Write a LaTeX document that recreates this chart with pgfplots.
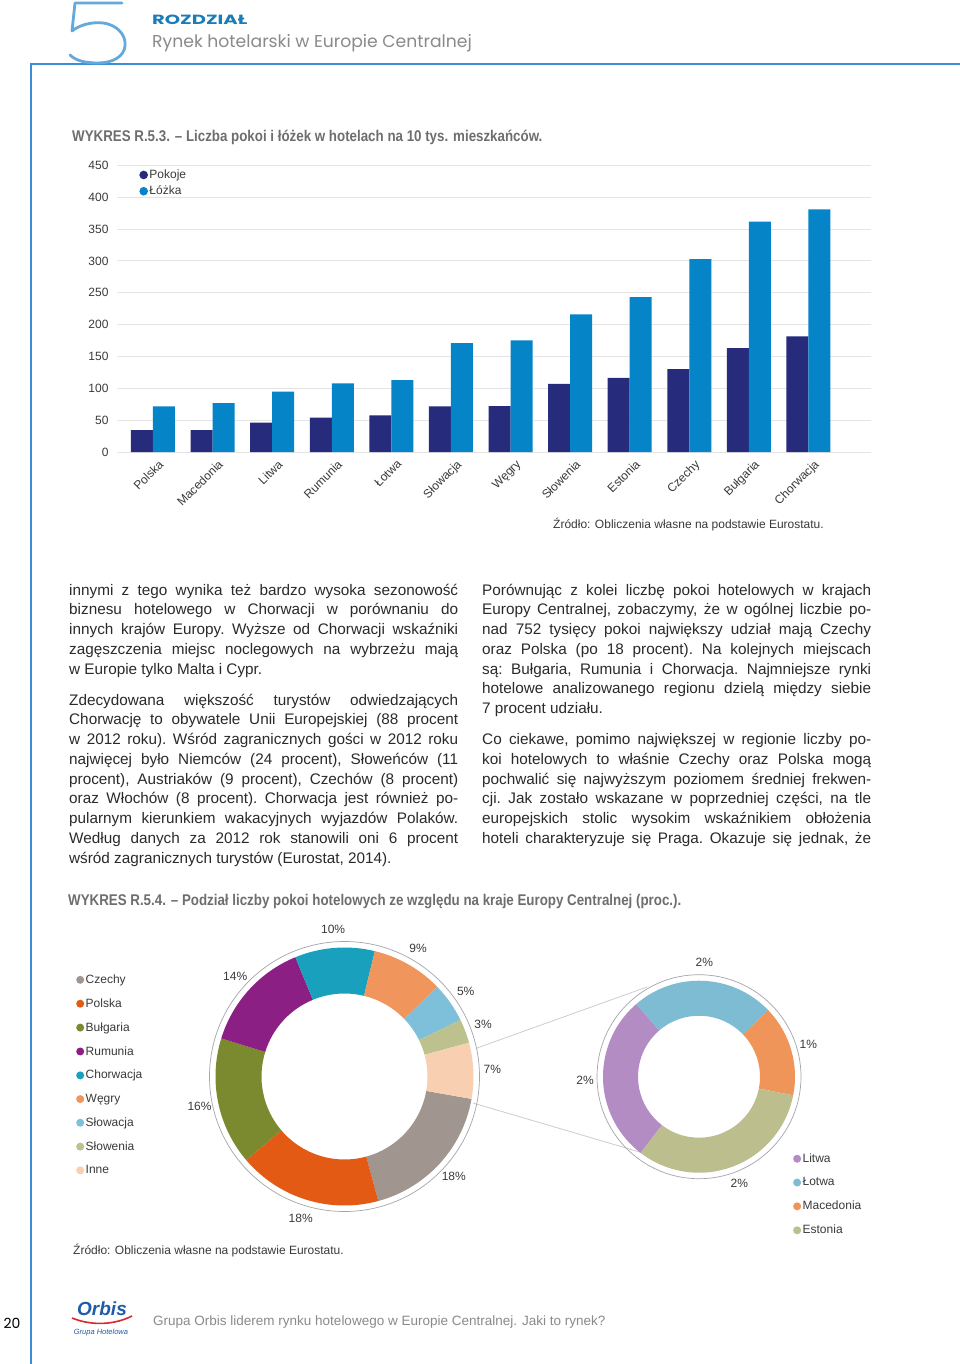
\documentclass[border=0pt]{standalone}
\usepackage{fontspec}
\usepackage{graphicx}
\usepackage{pgfplots}
\usepackage{pgfplotstable}
\pgfplotsset{compat=1.18}
\setmainfont{Liberation Sans}
\newfontfamily\popfont{Poppins}

\definecolor{navy}{HTML}{262B7B}
\definecolor{lblue}{HTML}{0584C8}
\definecolor{gridgray}{HTML}{E4E4E4}
\definecolor{tickgray}{HTML}{3A3A3A}
\definecolor{titlegray}{HTML}{6E6E6E}
\definecolor{bodygray}{HTML}{2A2A2A}
\definecolor{frameblue}{HTML}{3D8ED0}
\definecolor{fiveblue}{HTML}{62AADC}
\definecolor{tealhead}{HTML}{1B7DB6}
\definecolor{headgray}{HTML}{8A8A8A}
\definecolor{ringgray}{HTML}{A4A4AE}
\definecolor{linegray}{HTML}{CDCDCD}
\definecolor{czechy}{HTML}{A1958F}
\definecolor{polska}{HTML}{E25A14}
\definecolor{bulgaria}{HTML}{7B8A2F}
\definecolor{rumunia}{HTML}{8B1F83}
\definecolor{chorwacja}{HTML}{18A0BD}
\definecolor{wegry}{HTML}{F0955B}
\definecolor{slowacja}{HTML}{7EC0D9}
\definecolor{slowenia}{HTML}{BCC18E}
\definecolor{inne}{HTML}{F8CFB0}
\definecolor{litwa}{HTML}{B38CC4}
\definecolor{lotwa}{HTML}{7EBCD3}
\definecolor{macedonia}{HTML}{F0955A}
\definecolor{estonia}{HTML}{BDBE8D}
\definecolor{orbisblue}{HTML}{1F5CA8}
\definecolor{orbisred}{HTML}{D8282E}

% bar data (per 10 thousand inhabitants)
\pgfplotstableread{
idx pokoje lozka
0  34.5  71.6
1  34.5  76.8
2  46.0  94.6
3  53.8  107.7
4  57.5  112.9
5  71.6  170.9
6  72.1  175.1
7  107.1 215.9
8  116.5 243.0
9  130.1 302.6
10 163.1 361.7
11 181.4 381.0
}\bars

% donut data
\pgfplotstableread{
name val col lab
Czechy 18 czechy 18
Polska 18 polska 18
Bulgaria 16 bulgaria 16
Rumunia 14 rumunia 14
Chorwacja 10 chorwacja 10
Wegry 9 wegry 9
Slowacja 5 slowacja 5
Slowenia 3 slowenia 3
Inne 7 inne 7
}\donutA

\pgfplotstableread{
name val col lab
Litwa 1.98 litwa 2
Lotwa 1.69 lotwa 2
Macedonia 1.07 macedonia 1
Estonia 2.26 estonia 2
}\donutB

\newcommand\pielabfont{\fontsize{12}{14}\selectfont}
% #1 table, #2 start angle, #3 outer r, #4 inner r, #5 deg per unit, #6 label radius
\newcommand\drawdonut[6]{%
  \xdef\cumang{#2}%
  \pgfplotstablegetrowsof{#1}%
  \pgfmathtruncatemacro\dnrows{\pgfplotsretval-1}%
  \pgfplotsforeachungrouped \di in {0,...,\dnrows}{%
    \pgfplotstablegetelem{\di}{val}\of{#1}\let\dval\pgfplotsretval
    \pgfplotstablegetelem{\di}{col}\of{#1}\let\dcol\pgfplotsretval
    \pgfplotstablegetelem{\di}{lab}\of{#1}\let\dlab\pgfplotsretval
    \pgfmathsetmacro\dA{\cumang}%
    \pgfmathsetmacro\dB{\cumang-#5*\dval}%
    \pgfmathsetmacro\dM{(\dA+\dB)/2}%
    \pgfmathsetmacro\xa{#3*cos(\dA)}\pgfmathsetmacro\ya{#3*sin(\dA)}%
    \pgfmathsetmacro\xb{#4*cos(\dB)}\pgfmathsetmacro\yb{#4*sin(\dB)}%
    \pgfmathsetmacro\xm{#6*cos(\dM)}\pgfmathsetmacro\ym{#6*sin(\dM)}%
    \edef\dtemp{\noexpand\fill[\dcol] (axis cs:\xa,\ya) arc[start angle=\dA, end angle=\dB, radius=#3pt] -- (axis cs:\xb,\yb) arc[start angle=\dB, end angle=\dA, radius=#4pt] -- cycle;
      \noexpand\node[font=\noexpand\pielabfont, text=tickgray, inner sep=0pt] at (axis cs:\xm,\ym) {\dlab\noexpand\%};}%
    \dtemp
    \xdef\cumang{\dB}%
  }%
}

\newcommand\bodyfont{\fontsize{15.3}{19.75}\selectfont\frenchspacing}
\newcommand\titlebox[1]{\scalebox{0.86}[1]{\bfseries\fontsize{15.5}{16}\selectfont #1}}

\begin{document}
\begin{tikzpicture}
\path[use as bounding box, fill=white] (0pt,0pt) rectangle (960pt,-1364pt);
\begin{scope}[x=1pt,y=-1pt]
% frame
\draw[frameblue, line width=1.5pt] (960,64) -- (31,64) -- (31,1364);
% big 5
\draw[fiveblue, line width=2.8pt, line cap=round, line join=round] (122,3) -- (75,3) -- (72,31)
  .. controls (82,23) and (98,21) .. (108,24)
  .. controls (121,28) and (126,38) .. (125,46)
  .. controls (124,57) and (112,63) .. (98,63)
  .. controls (86,63) and (76,61) .. (70,55);
\node[anchor=base west, inner sep=0pt, text=tealhead] at (152,25) {\resizebox{95pt}{9.5pt}{\popfont\bfseries ROZDZIAŁ}};
\node[anchor=base west, inner sep=0pt, font=\popfont\fontsize{17.2}{18}\selectfont, text=headgray] at (152,48) {Rynek hotelarski w Europie Centralnej};
% chart 1 title
\node[anchor=base west, inner sep=0pt, text=titlegray] at (72,142) {\titlebox{WYKRES R.5.3. – Liczba pokoi i łóżek w hotelach na 10 tys. mieszkańców.}};
\node[anchor=base west, inner sep=0pt, font=\fontsize{12}{14}\selectfont, text=tickgray] at (553,528) {Źródło: Obliczenia własne na podstawie Eurostatu.};
% text columns
\node[anchor=base west, inner sep=0pt, text=bodygray] at (69,595) {\parbox[t]{389pt}{\bodyfont\parindent=0pt\hyphenpenalty=10000\tolerance=10000\emergencystretch=0pt
innymi z tego wynika też bardzo wysoka sezonowość\linebreak
biznesu hotelowego w Chorwacji w porównaniu do\linebreak
innych krajów Europy. Wyższe od Chorwacji wskaźniki\linebreak
zagęszczenia miejsc noclegowych na wybrzeżu mają\linebreak
w Europie tylko Malta i Cypr.\par\vspace{11.3pt}
Zdecydowana większość turystów odwiedzających\linebreak
Chorwację to obywatele Unii Europejskiej (88 procent\linebreak
w 2012 roku). Wśród zagranicznych gości w 2012 roku\linebreak
najwięcej było Niemców (24 procent), Słoweńców (11\linebreak
procent), Austriaków (9 procent), Czechów (8 procent)\linebreak
oraz Włochów (8 procent). Chorwacja jest również po-\linebreak
pularnym kierunkiem wakacyjnych wyjazdów Polaków.\linebreak
Według danych za 2012 rok stanowili oni 6 procent\linebreak
wśród zagranicznych turystów (Eurostat, 2014).\par}};
\node[anchor=base west, inner sep=0pt, text=bodygray] at (482,595) {\parbox[t]{389pt}{\bodyfont\parindent=0pt\hyphenpenalty=10000\tolerance=10000\emergencystretch=0pt
Porównując z kolei liczbę pokoi hotelowych w krajach\linebreak
Europy Centralnej, zobaczymy, że w ogólnej liczbie po-\linebreak
nad 752 tysięcy pokoi największy udział mają Czechy\linebreak
oraz Polska (po 18 procent). Na kolejnych miejscach\linebreak
są: Bułgaria, Rumunia i Chorwacja. Najmniejsze rynki\linebreak
hotelowe analizowanego regionu dzielą między siebie\linebreak
7 procent udziału.\par\vspace{11.3pt}
{\parfillskip=0pt Co ciekawe, pomimo największej w regionie liczby po-\linebreak
koi hotelowych to właśnie Czechy oraz Polska mogą\linebreak
pochwalić się najwyższym poziomem średniej frekwen-\linebreak
cji. Jak zostało wskazane w poprzedniej części, na tle\linebreak
europejskich stolic wysokim wskaźnikiem obłożenia\linebreak
hoteli charakteryzuje się Praga. Okazuje się jednak, że\par}}};
% chart 2 title
\node[anchor=base west, inner sep=0pt, text=titlegray] at (68,905) {\titlebox{WYKRES R.5.4. – Podział liczby pokoi hotelowych ze względu na kraje Europy Centralnej (proc.).}};
\node[anchor=base west, inner sep=0pt, font=\fontsize{12}{14}\selectfont, text=tickgray] at (73,1254) {Źródło: Obliczenia własne na podstawie Eurostatu.};
% connector lines
\draw[linegray, line width=0.8pt] (477,1048) -- (647,987);
\draw[linegray, line width=0.8pt] (473,1103) -- (643,1153);
% footer
\node[font=\popfont\fontsize{14}{14}\selectfont, text=black] at (12,1323) {20};
\node[font=\bfseries\itshape\fontsize{19}{19}\selectfont, text=orbisblue, inner sep=0pt] at (102,1309) {Orbis};
\draw[orbisred, line width=1.6pt] (72,1318) .. controls (92,1326) and (114,1325) .. (132,1316);
\node[font=\itshape\fontsize{7.5}{8}\selectfont, text=orbisblue, inner sep=0pt] at (101,1333) {Grupa Hotelowa};
\node[anchor=base west, inner sep=0pt, font=\fontsize{13.5}{14}\selectfont, text=headgray] at (153,1325) {Grupa Orbis liderem rynku hotelowego w Europie Centralnej. Jaki to rynek?};
\end{scope}

% ===== bar chart =====
\begin{axis}[
  at={(117pt,-452pt)}, anchor=south west,
  scale only axis, width=754pt, height=286.7pt,
  xmin=-0.604, xmax=12.05, ymin=0, ymax=450,
  ybar=0pt, bar width=22pt,
  axis line style={draw=none}, tick style={draw=none},
  ymajorgrids, grid style={gridgray, line width=0.8pt},
  ytick={0,50,...,450},
  xtick={0,...,11},
  xticklabels={Polska,Macedonia,Litwa,Rumunia,Łotwa,Słowacja,Węgry,Słowenia,Estonia,Czechy,Bułgaria,Chorwacja},
  xticklabel style={rotate=45, anchor=north east, font=\fontsize{12}{14}\selectfont, text=tickgray, xshift=5pt, yshift=-2pt},
  yticklabel style={font=\fontsize{12}{14}\selectfont, text=tickgray, xshift=-5pt},
  /pgf/number format/assume math mode=true,
  legend image code/.code={\fill[#1] (0pt,0pt) circle (4.3pt);},
  legend style={at={(0.0294,0.99)}, anchor=north west, draw=none, fill=none, inner sep=0pt,
    font=\fontsize{12}{14}\selectfont, text=tickgray, row sep=3pt, nodes={inner sep=1.5pt}, cells={anchor=west}},
]
\addplot[fill=navy, draw=none] table[x=idx, y=pokoje]{\bars};
\addplot[fill=lblue, draw=none] table[x=idx, y=lozka]{\bars};
\legend{Pokoje, Łóżka}
\end{axis}

% ===== donut 1 =====
\begin{axis}[
  at={(194.5pt,-1226.5pt)}, anchor=south west,
  scale only axis, width=300pt, height=300pt,
  xmin=-150, xmax=150, ymin=-150, ymax=150,
  hide axis, clip=false,
  legend image code/.code={\fill[#1] (0pt,0pt) circle (4pt);},
  legend style={at={(-0.395,0.845)}, anchor=north west, draw=none, fill=none, inner sep=0pt,
    font=\fontsize{12}{14}\selectfont, text=tickgray, row sep=10.7pt, nodes={inner sep=1.5pt}, cells={anchor=west}},
]
\draw[ringgray, line width=0.7pt] (axis cs:0,0) circle[radius=135pt];
\drawdonut{\donutA}{-10}{129}{83}{3.6}{148}
\addlegendimage{fill=czechy, draw=none}\addlegendentry{Czechy}
\addlegendimage{fill=polska, draw=none}\addlegendentry{Polska}
\addlegendimage{fill=bulgaria, draw=none}\addlegendentry{Bułgaria}
\addlegendimage{fill=rumunia, draw=none}\addlegendentry{Rumunia}
\addlegendimage{fill=chorwacja, draw=none}\addlegendentry{Chorwacja}
\addlegendimage{fill=wegry, draw=none}\addlegendentry{Węgry}
\addlegendimage{fill=slowacja, draw=none}\addlegendentry{Słowacja}
\addlegendimage{fill=slowenia, draw=none}\addlegendentry{Słowenia}
\addlegendimage{fill=inne, draw=none}\addlegendentry{Inne}
\end{axis}

% ===== donut 2 =====
\begin{axis}[
  at={(589pt,-1186.7pt)}, anchor=south west,
  scale only axis, width=220pt, height=220pt,
  xmin=-110, xmax=110, ymin=-110, ymax=110,
  hide axis, clip=false,
  legend image code/.code={\fill[#1] (0pt,0pt) circle (4pt);},
  legend style={at={(0.927,0.158)}, anchor=north west, draw=none, fill=none, inner sep=0pt,
    font=\fontsize{12}{14}\selectfont, text=tickgray, row sep=10.8pt, nodes={inner sep=1.5pt}, cells={anchor=west}},
]
\draw[ringgray, line width=0.7pt] (axis cs:0,0) circle[radius=102pt];
\drawdonut{\donutB}{232.6}{96}{61}{51.4286}{114}
\addlegendimage{fill=litwa, draw=none}\addlegendentry{Litwa}
\addlegendimage{fill=lotwa, draw=none}\addlegendentry{Łotwa}
\addlegendimage{fill=macedonia, draw=none}\addlegendentry{Macedonia}
\addlegendimage{fill=estonia, draw=none}\addlegendentry{Estonia}
\end{axis}
\end{tikzpicture}
\end{document}
